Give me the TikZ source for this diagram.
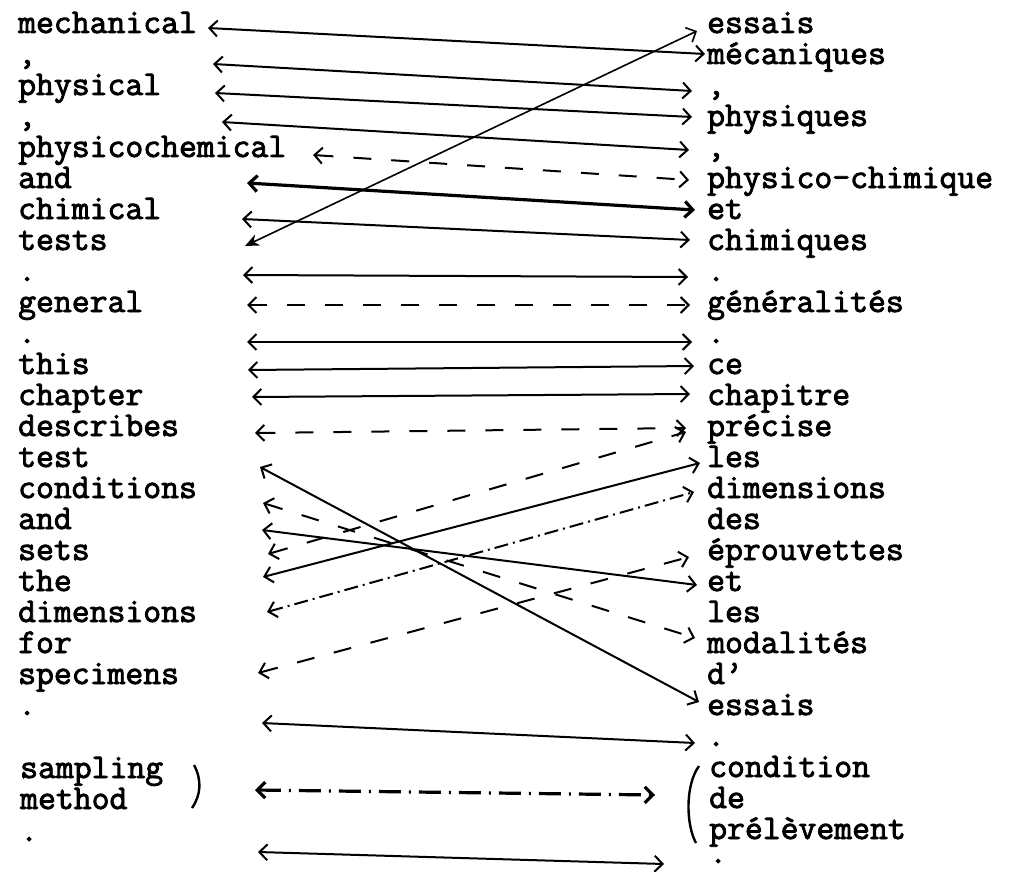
\documentclass[tikz,border=0pt]{standalone}
\usepackage{fontspec}
\newfontfamily\wf{Latin Modern Mono}[FakeBold=2.5]
\usetikzlibrary{arrows.meta}
\newcommand\wfont{\wf\fontsize{34.7}{40}\selectfont}
\begin{document}
\begin{tikzpicture}[x=1pt,y=-1pt,
  word/.style={anchor=base west, inner sep=0pt, font=\wfont},
  conn/.style={<->, line width=2pt, >={Straight Barb[length=8pt,width=16pt]}},
  dashconn/.style={conn, dash pattern=on 18pt off 20pt},
  dotdash/.style={conn, dash pattern=on 14pt off 5pt on 2pt off 5pt},
  boldconn/.style={conn, line width=3.2pt},
  bolddash/.style={conn, line width=3.2pt, dash pattern=on 22pt off 8pt on 2pt off 8pt},
  brace/.style={line width=2.4pt}]
\useasboundingbox (0,0) rectangle (1014,872);
% left column
\node[word] (l0)  at (18,33)  {mechanical};
\node[word] (l1)  at (18,64)  {,};
\node[word] (l2)  at (18,95)  {physical};
\node[word] (l3)  at (18,126) {,};
\node[word] (l4)  at (18,157) {physicochemical};
\node[word] (l5)  at (18,188) {and};
\node[word] (l6)  at (18,219) {chimical};
\node[word] (l7)  at (18,250) {tests};
\node[word] (l8)  at (18,281) {.};
\node[word] (l9)  at (18,312) {general};
\node[word] (l10) at (18,343) {.};
\node[word] (l11) at (18,374) {this};
\node[word] (l12) at (18,405) {chapter};
\node[word] (l13) at (18,436) {describes};
\node[word] (l14) at (18,467) {test};
\node[word] (l15) at (18,498) {conditions};
\node[word] (l16) at (18,529) {and};
\node[word] (l17) at (18,560) {sets};
\node[word] (l18) at (18,591) {the};
\node[word] (l19) at (18,622) {dimensions};
\node[word] (l20) at (18,653) {for};
\node[word] (l21) at (18,684) {specimens};
\node[word] (l22) at (18,715) {.};
\node[word] (l24) at (20,778) {sampling};
\node[word] (l25) at (20,809) {method};
\node[word] (l26) at (20,841) {.};
% right column
\node[word] (r0)  at (707,33)  {essais};
\node[word] (r1)  at (707,64)  {mécaniques};
\node[word] (r2)  at (707,95)  {,};
\node[word] (r3)  at (707,126) {physiques};
\node[word] (r4)  at (707,157) {,};
\node[word] (r5)  at (707,188) {physico-chimique};
\node[word] (r6)  at (707,219) {et};
\node[word] (r7)  at (707,250) {chimiques};
\node[word] (r8)  at (707,281) {.};
\node[word] (r9)  at (707,312) {généralités};
\node[word] (r10) at (707,343) {.};
\node[word] (r11) at (707,374) {ce};
\node[word] (r12) at (707,405) {chapitre};
\node[word] (r13) at (707,436) {précise};
\node[word] (r14) at (707,467) {les};
\node[word] (r15) at (707,498) {dimensions};
\node[word] (r16) at (707,529) {des};
\node[word] (r17) at (707,560) {éprouvettes};
\node[word] (r18) at (707,591) {et};
\node[word] (r19) at (707,622) {les};
\node[word] (r20) at (707,653) {modalités};
\node[word] (r21) at (707,684) {d’};
\node[word] (r22) at (707,715) {essais};
\node[word] (r23) at (707,746) {.};
\node[word] (r24) at (709,777) {condition};
\node[word] (r25) at (709,808) {de};
\node[word] (r26) at (709,839) {prélèvement};
\node[word] (r27) at (709,863) {.};
% connector ends
\coordinate (a0l) at (208,28);   \coordinate (a0r) at (705,54);
\coordinate (a7l) at (245,246);  \coordinate (a7r) at (697,31);
\coordinate (a1l) at (213,64);   \coordinate (a1r) at (692,91);
\coordinate (a2l) at (215,93);   \coordinate (a2r) at (692,117);
\coordinate (a3l) at (222,122);  \coordinate (a3r) at (689,150);
\coordinate (a4l) at (313,155);  \coordinate (a4r) at (689,180);
\coordinate (a5l) at (247,183);  \coordinate (a5r) at (695,210);
\coordinate (a6l) at (242,219);  \coordinate (a6r) at (690,240);
\coordinate (a8l) at (243,275);  \coordinate (a8r) at (688,277);
\coordinate (a9l) at (247,305);  \coordinate (a9r) at (690,305);
\coordinate (a10l) at (247,342); \coordinate (a10r) at (692,342);
\coordinate (a11l) at (248,370); \coordinate (a11r) at (694,366);
\coordinate (a12l) at (252,397); \coordinate (a12r) at (690,394);
\coordinate (a13l) at (255,433); \coordinate (a13r) at (686,428);
\coordinate (a14l) at (260,467); \coordinate (a14r) at (699,702);
\coordinate (a15l) at (263,503); \coordinate (a15r) at (695,638);
\coordinate (a16l) at (262,530); \coordinate (a16r) at (697,585);
\coordinate (a17l) at (268,554); \coordinate (a17r) at (686,432);
\coordinate (a18l) at (263,577); \coordinate (a18r) at (700,463);
\coordinate (a19l) at (267,612); \coordinate (a19r) at (694,492);
\coordinate (a21l) at (258,673); \coordinate (a21r) at (689,557);
\coordinate (a22l) at (262,723); \coordinate (a22r) at (695,743);
\coordinate (a24l) at (255,790); \coordinate (a24r) at (655,795);
\coordinate (a26l) at (258,852); \coordinate (a26r) at (664,864);
% connectors
\draw[conn] (a0l) -- (a0r);
\draw[conn, line width=1.6pt, {Stealth[length=14pt,width=12pt]}-{Straight Barb[length=8pt,width=16pt]}] (a7l) -- (a7r);
\draw[conn] (a1l) -- (a1r);
\draw[conn] (a2l) -- (a2r);
\draw[conn] (a3l) -- (a3r);
\draw[dashconn] (a4l) -- (a4r);
\draw[boldconn] (a5l) -- (a5r);
\draw[conn] (a6l) -- (a6r);
\draw[conn] (a8l) -- (a8r);
\draw[dashconn] (a9l) -- (a9r);
\draw[conn] (a10l) -- (a10r);
\draw[conn] (a11l) -- (a11r);
\draw[conn] (a12l) -- (a12r);
\draw[dashconn] (a13l) -- (a13r);
\draw[conn] (a14l) -- (a14r);
\draw[dashconn] (a15l) -- (a15r);
\draw[conn] (a16l) -- (a16r);
\draw[dashconn] (a17l) -- (a17r);
\draw[conn] (a18l) -- (a18r);
\draw[dotdash] (a19l) -- (a19r);
\draw[dashconn] (a21l) -- (a21r);
\draw[conn] (a22l) -- (a22r);
\draw[bolddash] (a24l) -- (a24r);
\draw[conn] (a26l) -- (a26r);
% brackets
\draw[brace] (194,765) .. controls (202,780) and (201,795) .. (192,808);
\draw[brace] (699,766) .. controls (685,785) and (686,825) .. (696,843);
\end{tikzpicture}
\end{document}
